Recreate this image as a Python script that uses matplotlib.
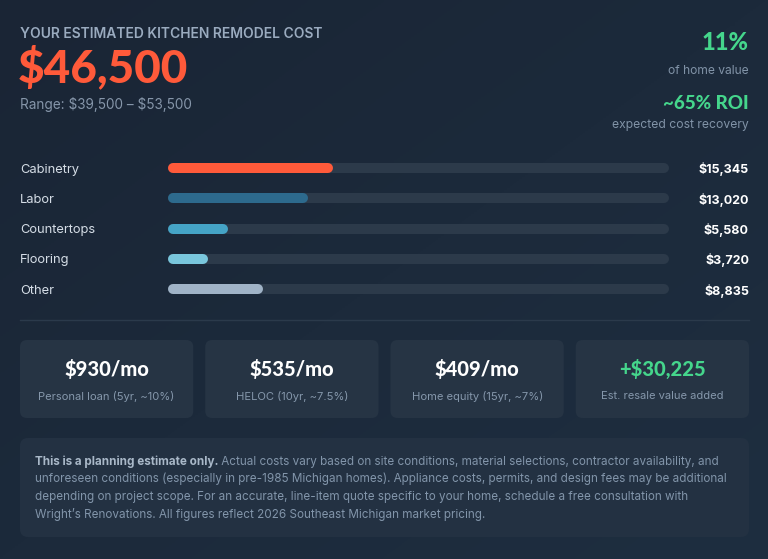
import numpy as np
import matplotlib
matplotlib.use('Agg')
import matplotlib.pyplot as plt
import matplotlib.transforms as mtransforms
from matplotlib.patches import FancyBboxPatch
from matplotlib.colors import LinearSegmentedColormap

plt.rcParams['font.family'] = ['Inter', 'DejaVu Sans']

# data
total_cost = 46500
range_low, range_high = 39500, 53500
home_pct = 11
roi_pct = 65
categories = ['Cabinetry', 'Labor', 'Countertops', 'Flooring', 'Other']
costs = [15345, 13020, 5580, 3720, 8835]
card_values = ['$930/mo', '$535/mo', '$409/mo', '+$30,225']
card_labels = ['Personal loan (5yr, ~10%)', 'HELOC (10yr, ~7.5%)',
               'Home equity (15yr, ~7%)', 'Est. resale value added']

# colours
ORANGE = '#ff5a3a'
GREEN = '#45d68c'
TRACK = '#2c3a4a'
CARD = '#263444'
bar_colors = ['#ff5a3a', '#2d6a8d', '#45a4c6', '#79c6dc', '#a0b3c7']
card_text_colors = ['white', 'white', 'white', GREEN]

W, H = 768, 559
fig = plt.figure(figsize=(W / 100, H / 100), dpi=100)
ax = fig.add_axes([0, 0, 1, 1])
ax.set_xlim(0, W)
ax.set_ylim(H, 0)
ax.axis('off')

# background gradient
grad = np.linspace(0, 1, 256).reshape(1, -1)
grad = (grad + grad.T) / 2
cmap = LinearSegmentedColormap.from_list('bg', ['#1a2535', '#1c2a3b', '#1e2e40'])
ax.imshow(grad, extent=(0, W, H, 0), cmap=cmap, aspect='auto', zorder=0)

# header
ax.text(20, 34, 'YOUR ESTIMATED KITCHEN REMODEL COST', fontsize=10, fontweight='semibold',
        color='#9aabbf', va='center', ha='left')
ax.text(18, 67.5, f'${total_cost:,}', fontsize=33, fontweight='black', family='Lato',
        color=ORANGE, va='center', ha='left')
ax.text(20, 104, f'Range: \\${range_low:,} \u2013 \\${range_high:,}', fontsize=9.8,
        color='#8696aa', va='center', ha='left')

ax.text(749, 43, f'{home_pct}%', fontsize=17, fontweight='black', family='Lato',
        color=GREEN, va='center', ha='right')
ax.text(749, 71, 'of home value', fontsize=8.7, color='#8193a7', va='center', ha='right')
ax.text(749, 103.5, f'~{roi_pct}% ROI', fontsize=13.5, fontweight='black', family='Lato',
        color=GREEN, va='center', ha='right')
ax.text(749, 125, 'expected cost recovery', fontsize=8.75, color='#8193a7', va='center', ha='right')

# cost breakdown bars
row_h = 30.25
top = 168 - row_h / 2
x0, x1 = 168, 669
ax_b = fig.add_axes([x0 / W, 1 - (top + 5 * row_h) / H, (x1 - x0) / W, 5 * row_h / H])
ax_b.set_xlim(0, 1)
ax_b.set_ylim(4.5, -0.5)
ax_b.axis('off')
ax_b.patch.set_alpha(0)

cap = 5 / (x1 - x0)
ypos = np.arange(len(categories))
frac = np.array(costs) / total_cost
ax_b.hlines(ypos, cap, 1 - cap, colors=TRACK, linewidth=7.2, capstyle='round', clip_on=False)
ax_b.hlines(ypos, cap, frac - cap, colors=bar_colors, linewidth=7.2, capstyle='round',
            clip_on=False)

# nudge labels down a touch so they sit centred on the bars
txt_off = mtransforms.ScaledTranslation(0, -1.5 / 100, fig.dpi_scale_trans)
trans = mtransforms.blended_transform_factory(ax.transData, ax_b.transData) + txt_off
for i, (cat, c) in enumerate(zip(categories, costs)):
    ax_b.text(20, i, cat, transform=trans, fontsize=9.3, color='#d5dde6',
              va='center', ha='left', clip_on=False)
    ax_b.text(749, i, f'${c:,}', transform=trans, fontsize=9, fontweight='bold',
              color='white', va='center', ha='right', clip_on=False)

# divider
ax.plot([20, 749], [320, 320], color='#2b3a4b', linewidth=1)

# cards
gap = 12
card_w = (749 - 20 - 3 * gap) / 4
for i, (val, lab, tc) in enumerate(zip(card_values, card_labels, card_text_colors)):
    left = 20 + i * (card_w + gap)
    box = FancyBboxPatch((left, 340), card_w, 78, boxstyle='round,pad=0,rounding_size=7',
                         facecolor=CARD, edgecolor='none', zorder=1)
    ax.add_patch(box)
    cx = left + card_w / 2
    ax.text(cx, 369, val, fontsize=14.5, fontweight='black', family='Lato', color=tc,
            ha='center', va='center', zorder=2)
    ax.text(cx, 396, lab, fontsize=8.05, color='#8597ab', ha='center', va='center', zorder=2)

# disclaimer
box = FancyBboxPatch((20, 438), 729, 99, boxstyle='round,pad=0,rounding_size=8',
                     facecolor='#233142', edgecolor='none', zorder=1)
ax.add_patch(box)

bold_part = 'This is a planning estimate only.'
lines = [
    ' Actual costs vary based on site conditions, material selections, contractor availability, and',
    'unforeseen conditions (especially in pre-1985 Michigan homes). Appliance costs, permits, and design fees may be additional',
    'depending on project scope. For an accurate, line-item quote specific to your home, schedule a free consultation with',
    'Wright\u2019s Renovations. All figures reflect 2026 Southeast Michigan market pricing.',
]
line_y = [461.5, 479, 497, 514.5]
fs = 8.42
renderer = fig.canvas.get_renderer()
t = ax.text(35, line_y[0], bold_part, fontsize=fs, fontweight='bold', color='#a9b8c8',
            ha='left', va='center', zorder=2)
bb = t.get_window_extent(renderer)
ax.text(35 + bb.width, line_y[0], lines[0], fontsize=fs, color='#8295aa',
        ha='left', va='center', zorder=2)
for ln, yy in zip(lines[1:], line_y[1:]):
    ax.text(35, yy, ln, fontsize=fs, color='#8295aa', ha='left', va='center', zorder=2)

fig.savefig('out.png', dpi=100, facecolor=fig.get_facecolor())
